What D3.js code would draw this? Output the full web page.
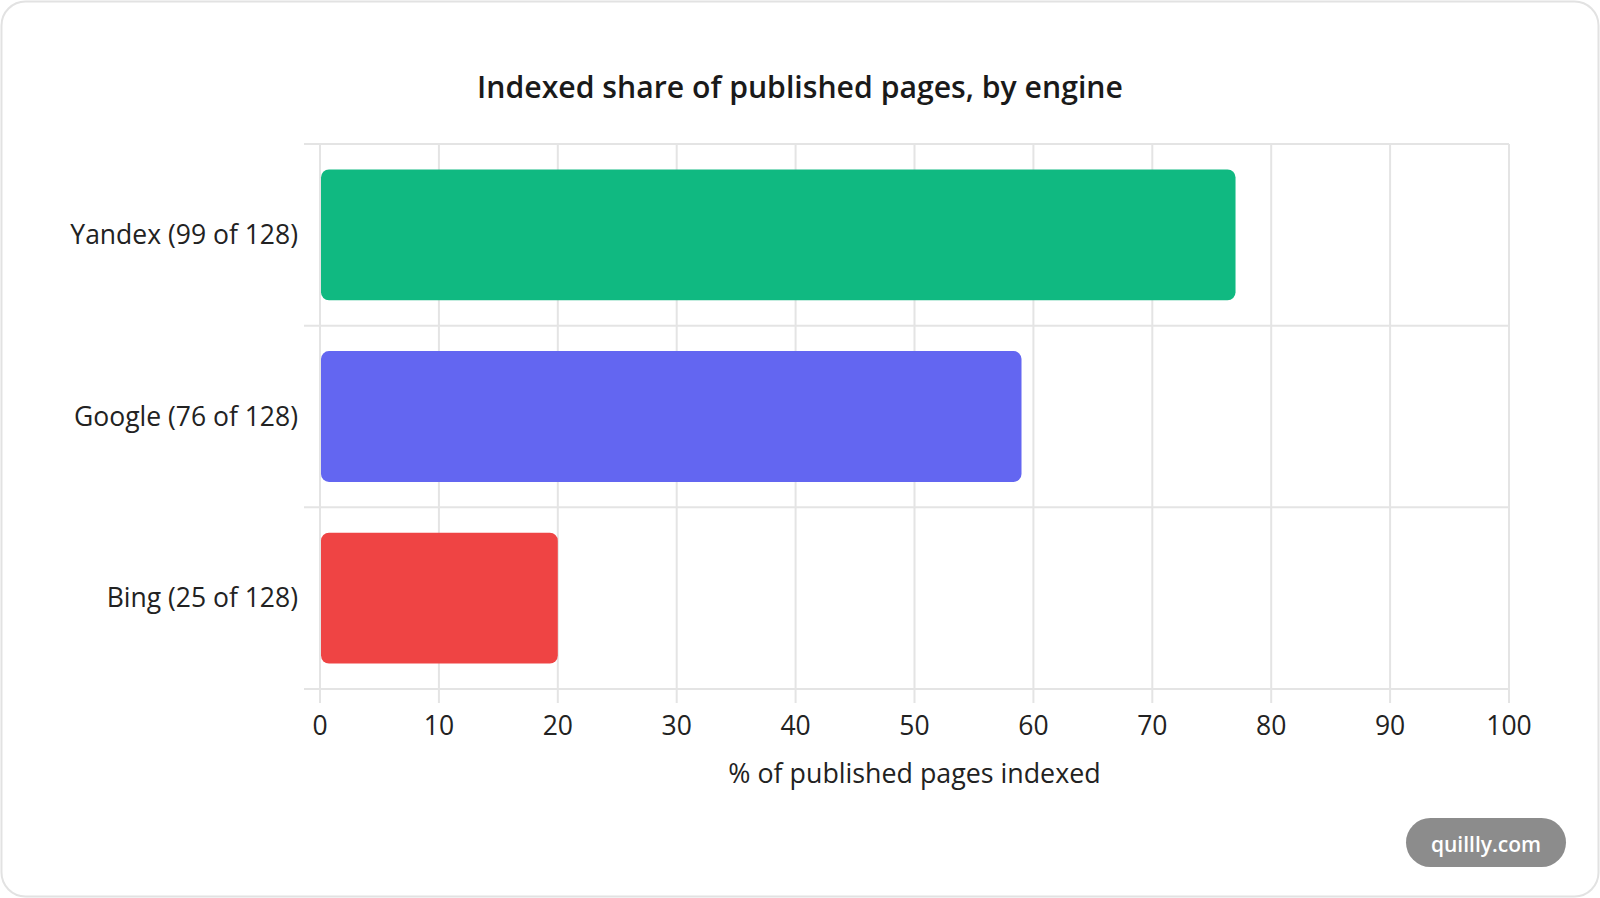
<!DOCTYPE html>
<html>
<head>
<meta charset="utf-8">
<script src="https://cdn.jsdelivr.net/npm/d3@7"></script>
<style>
  html, body { margin: 0; padding: 0; background: #ffffff; }
  svg { display: block; }
  text { font-family: "Open Sans", "Noto Sans", sans-serif; }
</style>
</head>
<body>
<svg id="chart" width="1600" height="898"></svg>
<script>
const categories = ["Yandex (99 of 128)", "Google (76 of 128)", "Bing (25 of 128)"];
const values = [77, 59, 20];
const colors = ["#10b981", "#6366f1", "#ef4444"];
const xTicks = [0, 10, 20, 30, 40, 50, 60, 70, 80, 90, 100];
const title = "Indexed share of published pages, by engine";
const xTitle = "% of published pages indexed";
const watermark = "quillly.com";

const W = 1600, H = 898;
const m = { left: 320, right: 91, top: 144, bottom: 209 };
const svg = d3.select("#chart");

// card
svg.append("rect")
  .attr("x", 1.5).attr("y", 1.5).attr("width", W - 3).attr("height", H - 3)
  .attr("rx", 24).attr("fill", "#fff").attr("stroke", "#e2e2e2").attr("stroke-width", 2);

const x = d3.scaleLinear().domain([0, 100]).range([m.left, W - m.right]);
const y = d3.scaleBand().domain(categories).range([m.top, H - m.bottom]).paddingInner(0).paddingOuter(0);
const barPad = 0.14;

const g = svg.append("g");

// vertical grid lines (extend down as tick marks)
g.selectAll("line.vg").data(xTicks).enter().append("line")
  .attr("x1", d => x(d)).attr("x2", d => x(d))
  .attr("y1", m.top).attr("y2", H - m.bottom + 14)
  .attr("stroke", "#e4e4e4").attr("stroke-width", 2);

// horizontal grid lines at band boundaries
const bounds = categories.map(c => y(c)).concat([y(categories[categories.length - 1]) + y.bandwidth()]);
g.selectAll("line.hg").data(bounds).enter().append("line")
  .attr("x1", m.left - 16).attr("x2", W - m.right)
  .attr("y1", d => d).attr("y2", d => d)
  .attr("stroke", "#e4e4e4").attr("stroke-width", 2);

// bars
g.selectAll("rect.bar").data(values).enter().append("rect")
  .attr("x", x(0) + 1)
  .attr("y", (d, i) => y(categories[i]) + y.bandwidth() * barPad)
  .attr("width", d => x(d) - x(0) - 1)
  .attr("height", y.bandwidth() * (1 - 2 * barPad))
  .attr("rx", 8).attr("ry", 8)
  .attr("fill", (d, i) => colors[i]);

// x tick labels
g.selectAll("text.xt").data(xTicks).enter().append("text")
  .attr("x", d => x(d)).attr("y", 735)
  .attr("text-anchor", "middle").attr("font-size", 26.5).attr("fill", "#222")
  .text(d => d);

// y labels
g.selectAll("text.yl").data(categories).enter().append("text")
  .attr("x", m.left - 22).attr("y", d => y(d) + y.bandwidth() / 2)
  .attr("dy", "0.35em")
  .attr("text-anchor", "end").attr("font-size", 26.5).attr("fill", "#222")
  .text(d => d);

// x axis title
svg.append("text")
  .attr("x", (x(0) + x(100)) / 2).attr("y", 783)
  .attr("text-anchor", "middle").attr("font-size", 26.8).attr("fill", "#222")
  .text(xTitle);

// title
svg.append("text")
  .attr("x", 800).attr("y", 98)
  .attr("text-anchor", "middle").attr("font-size", 30.2).attr("font-weight", 600).attr("fill", "#1a1a1a")
  .text(title);

// watermark
svg.append("rect")
  .attr("x", 1406).attr("y", 818).attr("width", 160).attr("height", 49)
  .attr("rx", 24.5).attr("fill", "#8c8c8c");
svg.append("text")
  .attr("x", 1486).attr("y", 845).attr("dy", "0.35em")
  .attr("text-anchor", "middle").attr("font-size", 21).attr("font-weight", 600).attr("fill", "#ffffff")
  .text(watermark);
</script>
</body>
</html>
